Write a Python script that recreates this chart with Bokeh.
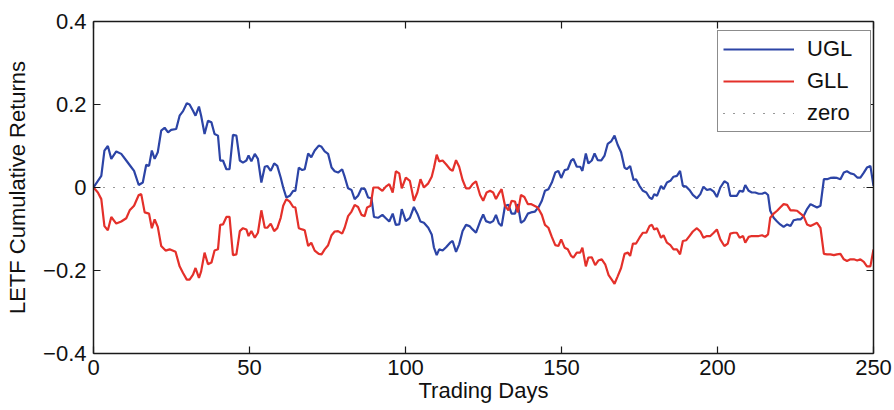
from bokeh.plotting import figure
from bokeh.models import (Range1d, LinearAxis, FixedTicker, CustomJSTickFormatter,
                          Legend, LegendItem, CustomLabelingPolicy)
from bokeh.embed import file_html
from bokeh.resources import INLINE

# ---------------- data ----------------
ugl_days = [0, 2.5, 3.5, 4.6, 5.7, 7.3, 8.9, 10.5, 12, 13, 14.5, 15.8, 16.9, 17.8, 18.7, 19.6, 20.6,
            21.7, 22.8, 23.9, 24.9, 26.5, 27.6, 28.7, 29.9, 30.8, 31.9, 32.7, 33.8, 34.5, 35.6, 36.7,
            37.8, 38.8, 39.9, 40.6, 41.5, 42.6, 43.6,
            44.7, 45.8, 46.9, 47.9, 49, 49.7, 50.6, 51.7, 52.7, 53.8, 54.9, 55.7, 56.8, 57.9, 58.9,
            60, 60.8, 61.8, 62.9, 64, 64.7, 65.8, 66.9, 67.7, 68.8, 69.8, 70.9, 72.2, 73.1, 74.1,
            75.2, 76.3, 77.3, 78.4, 79.7, 80.5, 81.6, 82.7, 83.7, 84.8,
            85.9, 87, 88, 89.1, 89.9, 91.2, 92.6, 93.7, 94.8, 95.9, 96.9, 98, 98.8, 100.1, 101.4,
            102.7, 103.8, 104.8, 105.9, 107.3, 108.4, 109.1, 110, 110.8, 111.9, 113, 114.3, 115.1,
            116.2, 117.2, 118.3, 119.4, 120.5, 121.5, 122.6, 123.9, 124.9, 125.8, 127.1, 128.1,
            129, 129.9, 130.8, 131.9, 133, 134, 135.1, 136, 137, 138.1, 139.2, 140.2, 141.5, 142.6,
            143.7, 144.7, 145.8, 146.9, 148, 149, 149.9, 151, 152, 153.1, 153.8, 154.9, 156, 156.7,
            157.8, 158.6, 159.7, 160.6, 161.6, 162.7, 163.8, 164.8, 165.9, 167, 168, 169.1, 170.2,
            170.9,
            172, 173.1, 173.9, 175, 176.1, 177.2, 178.2, 179, 179.7, 180.6, 181.9, 182.7, 183.8,
            184.9, 185.9, 187, 188, 188.9, 190, 191, 192.1, 193.4, 194.5, 195.5, 196.6, 197.7, 198.8,
            199.8, 200.9, 202.2, 203.3, 204.1, 205.2, 206.2, 207.1, 208.2, 208.9, 210, 211, 212.1,
            213.2, 214.3, 215.3, 216.2,
            216.9, 218, 219.1, 220.1, 221.2, 222.3, 223.4, 224.4, 225.5, 226.6, 227.6, 228.7, 229.8,
            230.8, 231.9, 233, 234.1, 235.1, 236.2, 237.3, 238.3, 239.4, 240.5, 241.5, 242.6, 243.7,
            244.8, 245.8, 246.9, 247.9, 249, 250]
ugl_values = [0, 0.028, 0.089, 0.10, 0.069, 0.087, 0.081, 0.065, 0.05, 0.04, 0.006, 0.012, 0.055,
              0.052, 0.089, 0.069, 0.085, 0.137, 0.144, 0.133, 0.139, 0.141, 0.173, 0.184, 0.203,
              0.2, 0.185, 0.173, 0.195, 0.173, 0.129, 0.161, 0.157, 0.129, 0.125, 0.065, 0.065,
              0.044, 0.044,
              0.127, 0.125, 0.065, 0.06, 0.065, 0.077, 0.063, 0.081, 0.069, 0.012, 0.05, 0.052,
              0.04, 0.058, 0.052, 0.024, 0, -0.024, -0.02, -0.008, -0.008, 0.048, 0.042, 0.044,
              0.082, 0.073, 0.089, 0.101, 0.098, 0.087, 0.081, 0.048, 0.039, 0.036, 0.044, 0.026,
              -0.002, -0.006, -0.028, -0.02,
              -0.002, -0.004, -0.024, -0.026, -0.071, -0.073, -0.066, -0.074, -0.082, -0.063,
              -0.09, -0.089, -0.052, -0.081, -0.073, -0.047, -0.063, -0.082, -0.085, -0.097,
              -0.113, -0.144, -0.163, -0.149, -0.152, -0.144, -0.133, -0.129, -0.155, -0.137,
              -0.105, -0.09, -0.093, -0.101, -0.109, -0.082, -0.065, -0.081, -0.085, -0.081,
              -0.066, -0.086, -0.093, -0.044, -0.042, -0.063, -0.063, -0.04, -0.085, -0.079,
              -0.063, -0.06, -0.058, -0.048, -0.032, -0.008, -0.004, 0.012, 0.036, 0.04, 0.023,
              0.042, 0.044, 0.065, 0.069, 0.05, 0.05, 0.04, 0.082, 0.058, 0.065, 0.082, 0.066,
              0.065, 0.077, 0.105, 0.111, 0.125, 0.103, 0.085, 0.048, 0.044,
              0.052, 0.018, 0.02, 0.004, -0.008, -0.012, -0.024, -0.028, -0.016, -0.02, 0.004,
              -0.004, 0.012, 0.016, 0.026, 0.028, 0.04, 0.004, 0.002, -0.006, -0.018, -0.026,
              -0.016, 0.002, -0.006, -0.004, -0.01, -0.023, 0, 0.015, 0.01, -0.02, -0.02, -0.02,
              -0.008, -0.01, 0.006, -0.008, -0.012, -0.012, -0.015, -0.015, -0.012, -0.018,
              -0.056, -0.073, -0.082, -0.089, -0.095, -0.089, -0.093, -0.079, -0.077, -0.077,
              -0.069, -0.052, -0.04, -0.044, -0.048, -0.044, 0.02, 0.02, 0.023, 0.024, 0.023, 0.02,
              0.036, 0.039, 0.034, 0.032, 0.024, 0.024, 0.036, 0.048, 0.052, 0.004]

gll_days = [0, 1.4, 2.5, 3.5, 4.6, 5.7, 7.3, 8.9, 10.5, 11.6, 13, 14.5, 15.3, 16.4, 17.8, 18.7, 19.6,
            20.6, 21.7, 23.1, 24.4, 26.3, 27.6, 28.7, 29.9, 30.8, 31.9, 32.7, 33.8, 34.5, 35.6, 36.7,
            37.8, 38.8, 39.9, 40.6, 41.5, 42.6, 43.6,
            44.7, 45.8, 46.9, 47.9, 49, 49.7, 50.6, 51.7, 52.7, 53.8, 54.9, 55.7, 56.8, 57.9, 58.9,
            60, 60.8, 61.8, 62.9, 64, 64.7, 65.8, 66.9, 67.7, 68.8, 69.8, 70.9, 72.2, 73.1, 74.1,
            75.2, 76.3, 77.3, 78.4, 79.7, 80.5, 81.6, 82.7, 83.7, 84.8, 85.9,
            86.9, 87.7, 88.8, 89.7, 91.2, 92.6, 93.7, 94.8, 95.9, 96.9, 98, 98.8, 100.1, 101.4,
            102.7, 103.8, 104.8, 105.9, 107.3, 108.4, 109.1, 110, 110.8, 111.9, 113, 114.3, 115.1,
            116.2, 117.2, 118.3, 119.4, 120.5, 121.5, 122.6, 123.9, 124.9, 126, 127.1, 128.1,
            129, 129.8, 130.8, 131.9, 133, 134, 135.1, 136, 137, 138.1, 139.2, 140.2, 141.3, 142.4,
            143.7, 144.7, 145.8, 146.9, 148, 149, 149.9, 151, 152, 153.1, 153.8, 154.9, 156, 156.7,
            157.8, 158.6, 159.7, 160.8, 161.8, 162.9, 164, 165.1, 166.1, 167, 168, 169.1, 170.2,
            171.3,
            172, 172.9, 173.9, 175, 176.1, 177.2, 178.2, 179, 179.7, 180.6, 181.9, 182.7, 183.8,
            184.9, 185.9, 187, 188, 188.9, 190, 191, 192.1, 193.4, 194.5, 195.5, 196.6, 197.7, 198.8,
            199.8, 200.9, 202.2, 203.3, 204.1, 205.2, 206.2, 207.1, 208.2, 208.9, 210, 211, 212.1,
            213.2, 214.3, 215.3, 216.2,
            216.9, 218, 219.1, 220.1, 221.2, 222.3, 223.4, 224.4, 225.5, 226.6, 227.6, 228.7, 229.8,
            230.8, 231.9, 233, 234.1, 235.1, 236.2, 237.3, 238.3, 239.4, 240.5, 241.5, 242.6, 243.7,
            244.8, 245.8, 246.9, 247.9, 249, 250]
gll_values = [0, -0.012, -0.028, -0.093, -0.103, -0.071, -0.087, -0.082, -0.074, -0.055, -0.044,
              -0.018, -0.016, -0.06, -0.063, -0.098, -0.077, -0.095, -0.141, -0.152, -0.149,
              -0.155, -0.19, -0.206, -0.222, -0.222, -0.21, -0.194, -0.218, -0.202, -0.157,
              -0.185, -0.181, -0.152, -0.149, -0.09, -0.089, -0.071, -0.071,
              -0.163, -0.161, -0.105, -0.098, -0.101, -0.117, -0.105, -0.121, -0.109, -0.055,
              -0.097, -0.097, -0.087, -0.105, -0.098, -0.073, -0.044, -0.028, -0.034, -0.047,
              -0.048, -0.098, -0.101, -0.103, -0.141, -0.133, -0.152, -0.16, -0.161, -0.149,
              -0.139, -0.115, -0.106, -0.105, -0.111, -0.097, -0.069, -0.058, -0.042, -0.047,
              -0.066,
              -0.069, -0.048, -0.044, 0, 0, -0.008, 0.002, 0.008, -0.012, 0.039, 0.034, -0.002,
              0.024, 0.016, -0.032, -0.012, 0.02, 0, 0.01, 0.026, 0.047, 0.079, 0.063, 0.065,
              0.056, 0.044, 0.04, 0.066, 0.05, 0.018, -0.002, -0.002, 0.008, 0.015, -0.018,
              -0.032, -0.012, -0.008, -0.012,
              -0.028, -0.016, -0.004, -0.044, -0.055, -0.032, -0.034, -0.06, -0.018, -0.023,
              -0.04, -0.04, -0.044, -0.048, -0.066, -0.09, -0.097, -0.119, -0.139, -0.141, -0.125,
              -0.145, -0.149, -0.165, -0.169, -0.157, -0.157, -0.145, -0.19, -0.169, -0.168,
              -0.187, -0.176, -0.173, -0.185, -0.211, -0.222, -0.232, -0.214, -0.194, -0.16,
              -0.157,
              -0.165, -0.135, -0.135, -0.121, -0.109, -0.109, -0.093, -0.09, -0.101, -0.098,
              -0.121, -0.115, -0.133, -0.139, -0.149, -0.149, -0.161, -0.129, -0.127, -0.117,
              -0.106, -0.098, -0.106, -0.121, -0.117, -0.117, -0.109, -0.101, -0.125, -0.141,
              -0.135, -0.111, -0.109, -0.109, -0.121, -0.117, -0.133, -0.119, -0.117, -0.117,
              -0.117, -0.115, -0.119, -0.113,
              -0.073, -0.063, -0.056, -0.048, -0.04, -0.042, -0.055, -0.055, -0.056, -0.063,
              -0.069, -0.089, -0.093, -0.089, -0.085, -0.097, -0.16, -0.161, -0.161, -0.163,
              -0.161, -0.16, -0.173, -0.177, -0.173, -0.173, -0.176, -0.173, -0.179, -0.19, -0.19,
              -0.149]

zero_days = [ugl_days[0], ugl_days[-1]]
zero_values = [0, 0]

x_ticks = [0, 50, 100, 150, 200, 250]
y_ticks = [-0.4, -0.2, 0, 0.2, 0.4]
series_names = ["UGL", "GLL", "zero"]
x_label = "Trading Days"
y_label = "LETF Cumulative Returns"

# ---------------- styling ----------------
FONT = "Liberation Sans"
FS = "22px"
BLUE = "#2c44a6"
RED = "#e4302a"
AXIS_COLOR = "#1a1a1a"
TEXT_COLOR = "#111111"

p = figure(width=894, height=410, output_backend="svg", toolbar_location=None,
           x_range=Range1d(0, 250), y_range=Range1d(-0.4, 0.4),
           min_border_left=93, min_border_right=21, min_border_top=21, min_border_bottom=57,
           x_axis_location=None, y_axis_location=None)
p.xgrid.visible = False
p.ygrid.visible = False
p.outline_line_color = None
p.background_fill_color = "white"
p.border_fill_color = "white"

yfmt = CustomJSTickFormatter(code="""
    if (Math.abs(tick) < 1e-9) return "0";
    return (tick < 0 ? "\u2212" : "") + Math.abs(tick).toFixed(1);
""")

no_labels = CustomLabelingPolicy(code="return new Set()")


def style_axis(ax, labels=True):
    ax.axis_line_color = AXIS_COLOR
    ax.axis_line_width = 1.5
    ax.major_tick_line_color = AXIS_COLOR
    ax.major_tick_line_width = 1.2
    ax.major_tick_in = 7
    ax.major_tick_out = 0
    ax.minor_tick_in = 0
    ax.minor_tick_out = 0
    if labels:
        ax.major_label_text_font = FONT
        ax.major_label_text_font_size = FS
        ax.major_label_text_color = TEXT_COLOR
        ax.axis_label_text_font = FONT
        ax.axis_label_text_font_size = FS
        ax.axis_label_text_font_style = "normal"
        ax.axis_label_text_color = TEXT_COLOR
    else:
        ax.major_label_policy = no_labels
        ax.major_label_text_font_size = "1px"
        ax.major_label_standoff = 0


xb = LinearAxis(ticker=FixedTicker(ticks=x_ticks), axis_label=x_label)
style_axis(xb)
xb.major_label_standoff = 6
xb.axis_label_standoff = 0
p.add_layout(xb, "below")

yl = LinearAxis(ticker=FixedTicker(ticks=y_ticks), formatter=yfmt, axis_label=y_label)
style_axis(yl)
yl.major_label_standoff = 7
yl.axis_label_standoff = 10
p.add_layout(yl, "left")

xt = LinearAxis(ticker=FixedTicker(ticks=x_ticks))
style_axis(xt, labels=False)
p.add_layout(xt, "above")

yr = LinearAxis(ticker=FixedTicker(ticks=y_ticks))
style_axis(yr, labels=False)
p.add_layout(yr, "right")

r_zero = p.line(zero_days, zero_values, line_color="#333333", line_width=1.2, line_dash="1 9")
r_ugl = p.line(ugl_days, ugl_values, line_color=BLUE, line_width=2.2)
r_gll = p.line(gll_days, gll_values, line_color=RED, line_width=2.2)

legend = Legend(items=[LegendItem(label=series_names[0], renderers=[r_ugl]),
                       LegendItem(label=series_names[1], renderers=[r_gll]),
                       LegendItem(label=series_names[2], renderers=[r_zero])],
                location=(624, 221), margin=0, padding=5, spacing=6,
                glyph_width=71, glyph_height=20, label_height=20, label_width=58,
                label_standoff=13,
                label_text_font=FONT, label_text_font_size=FS, label_text_color=TEXT_COLOR,
                border_line_color=AXIS_COLOR, border_line_width=1.5,
                background_fill_color="white", background_fill_alpha=1)
p.add_layout(legend, "center")

open("out.html", "w").write(file_html(p, INLINE))
